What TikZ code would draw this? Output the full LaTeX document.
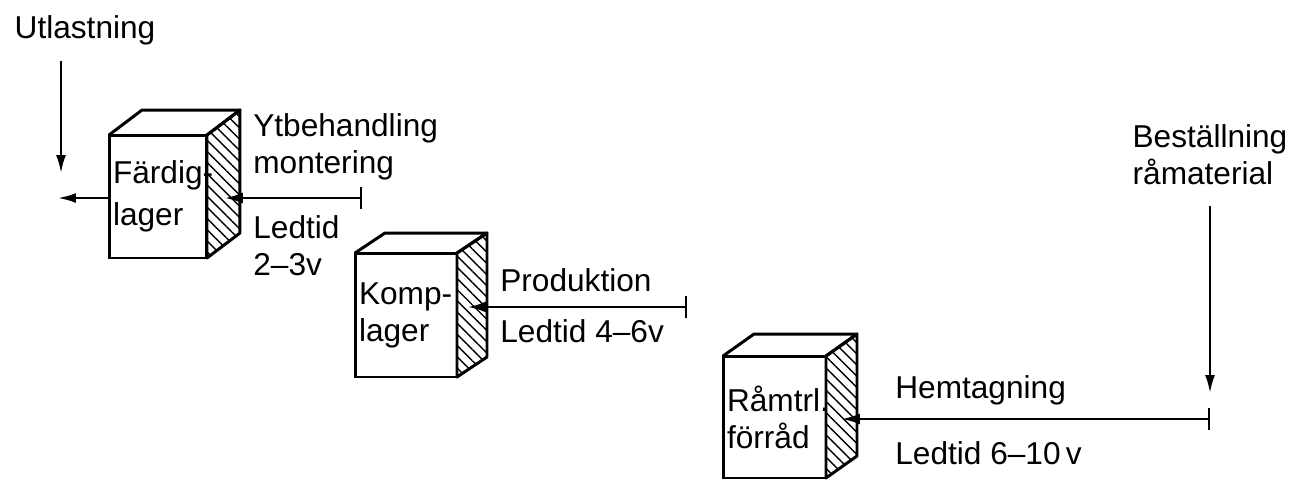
\documentclass[tikz,border=0pt]{standalone}
\usepackage{fontspec}
\setmainfont{Liberation Sans}
\usetikzlibrary{arrows.meta,calc,patterns.meta}

\begin{document}
\begin{tikzpicture}[x=0.02cm,y=-0.02cm,
    every node/.style={font=\fontsize{18}{21}\selectfont},
    lbl/.style={anchor=west,align=left,inner sep=0pt},
    front/.style={draw,line width=1.7pt,outer sep=0pt,inner xsep=0.08cm,align=left},
    face/.style={line width=1.7pt,line join=round},
    hatch/.style={pattern={Lines[angle=-45,distance=4.5pt,line width=0.8pt]}},
    feed/.style={line width=1.3pt,{Bar[width=0.44cm,line width=1.3pt]}-{Latex[length=0.36cm,width=0.22cm]}},
    drop/.style={line width=1.3pt,-{Latex[length=0.36cm,width=0.2cm]}}]
    \useasboundingbox (0,0) rectangle (1309,481);

    % Lager
    \node[front,text width=1.8cm,minimum height=2.46cm] (fard) at (158,196.5) {\mbox{Färdig-}\\[3pt]lager};
    \node[front,text width=1.88cm,minimum height=2.48cm] (komp) at (406,315) {\mbox{Komp-}\\lager};
    \node[front,text width=1.9cm,minimum height=2.44cm] (ramt) at (774.5,417) {\mbox{Råmtrl.}\\förråd};

    % Top and hatched side
    \foreach \n/\dx/\dy in {fard/33/-25,komp/30/-20,ramt/31/-22}{
        \draw[face] (\n.north west) -- ++(\dx,\dy) -- ($(\n.north east)+(\dx,\dy)$) -- (\n.north east);
        \draw[face,hatch] (\n.north east) -- ++(\dx,\dy) -- ($(\n.south east)+(\dx,\dy)$)
            -- (\n.south east) -- cycle;
    }

    % Utlastning
    \node (utl) at (85,30) {Utlastning};
    \coordinate (d1) at (61,173);
    \draw[drop,shorten <=0.2cm] (d1 |- utl.south) -- (d1);
    \coordinate (ut) at (58,198);
    \draw[drop] (fard.west |- ut) -- (ut);

    % Ytbehandling
    \coordinate (t1) at (362,198);
    \draw[feed] (t1) -- ($(fard.east |- t1)+(18,0)$);
    \node[lbl] (ytb) at (253,147) {Ytbehandling\\montering};
    \node[lbl] (led1) at (253,246) {Ledtid\\2–3v};

    % Produktion
    \coordinate (t2) at (687,307);
    \draw[feed] (t2) -- ($(komp.east |- t2)+(11,0)$);
    \node[lbl] (prod) at (500,280) {Produktion};
    \node[lbl] (led2) at (500,331) {Ledtid 4–6v};

    % Hemtagning
    \node[align=left] (best) at (1210,155) {Beställning\\råmaterial};
    \coordinate (d3) at (1210,393);
    \draw[drop,shorten <=0.3cm] (d3 |- best.south) -- (d3);
    \coordinate (t3) at (1210,419);
    \draw[feed] (t3) -- ($(ramt.east |- t3)+(16,0)$);
    \node[lbl] (hemt) at (895,390) {Hemtagning};
    \node[lbl] (led3) at (895,453) {Ledtid 6–10\,v};
\end{tikzpicture}
\end{document}
